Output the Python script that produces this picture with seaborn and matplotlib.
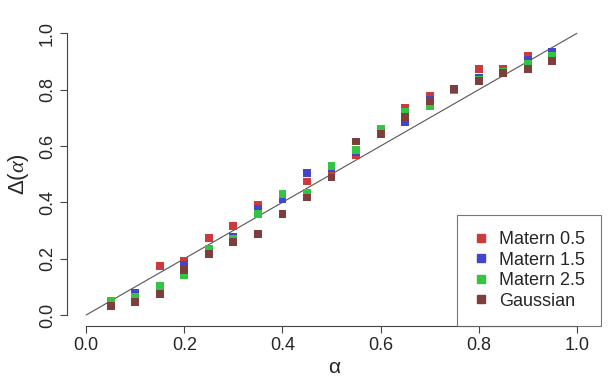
import numpy as np
import pandas as pd
import matplotlib
matplotlib.use("Agg")
import matplotlib.pyplot as plt
import seaborn as sns

## DATA
alpha = [0.05, 0.10, 0.15, 0.20, 0.25, 0.30, 0.35, 0.40, 0.45, 0.50,
         0.55, 0.60, 0.65, 0.70, 0.75, 0.80, 0.85, 0.90, 0.95]
matern05 = [0.040, 0.060, 0.174, 0.191, 0.274, 0.317, 0.389, 0.420, 0.474, 0.512,
            0.568, 0.655, 0.734, 0.777, 0.800, 0.872, 0.875, 0.918, 0.910]
matern15 = [0.045, 0.079, 0.100, 0.177, 0.235, 0.277, 0.377, 0.411, 0.504, 0.520,
            0.580, 0.655, 0.684, 0.765, 0.800, 0.840, 0.862, 0.907, 0.933]
matern25 = [0.050, 0.065, 0.104, 0.143, 0.235, 0.270, 0.358, 0.430, 0.434, 0.530,
            0.586, 0.662, 0.721, 0.740, 0.800, 0.835, 0.862, 0.892, 0.920]
gaussian = [0.033, 0.046, 0.074, 0.161, 0.217, 0.260, 0.288, 0.359, 0.417, 0.488,
            0.616, 0.644, 0.702, 0.759, 0.801, 0.830, 0.858, 0.872, 0.902]
labels = ["Matern 0.5", "Matern 1.5", "Matern 2.5", "Gaussian"]
colors = ["#CC3B3B", "#4444CC", "#33C444", "#7F3E3E"]

df = pd.concat([
    pd.DataFrame({"alpha": alpha, "delta": vals, "model": lab})
    for vals, lab in zip([matern05, matern15, matern25, gaussian], labels)
], ignore_index=True)

## PLOT
sns.set_style("white")
plt.rcParams["font.family"] = ["Liberation Sans", "DejaVu Sans"]
plt.rcParams["mathtext.fontset"] = "custom"
plt.rcParams["mathtext.rm"] = "Liberation Sans"
plt.rcParams["mathtext.it"] = "Liberation Serif:italic"

fig = plt.figure(figsize=(6.12, 3.77), dpi=100)
ax = fig.add_axes([0.1095, 0.1353, 0.8725, 0.8063])

ax.plot([0, 1], [0, 1], color="#555555", lw=0.8, zorder=1)
sns.scatterplot(data=df, x="alpha", y="delta", hue="model", hue_order=labels,
                palette=colors, marker="s", s=32, edgecolor="none",
                ax=ax, zorder=2, legend=False)

ax.set_xlim(-0.039, 1.049)
ax.set_ylim(-0.039, 1.04)
ticks = [0.0, 0.2, 0.4, 0.6, 0.8, 1.0]
ax.set_xticks(ticks)
ax.set_yticks(ticks)
ax.set_xticklabels([f"{t:.1f}" for t in ticks], fontsize=13)
ax.set_yticklabels([f"{t:.1f}" for t in ticks], fontsize=13, rotation=90, va="center")
ax.tick_params(direction="out", length=5, width=0.8, color="#444444", pad=3,
               bottom=True, left=True)

for side in ["top", "right"]:
    ax.spines[side].set_visible(False)
ax.spines["left"].set_bounds(0, 1)
ax.spines["bottom"].set_bounds(0, 1)
for side in ["left", "bottom"]:
    ax.spines[side].set_color("#444444")
    ax.spines[side].set_linewidth(0.8)

ax.set_xlabel("α", fontsize=15, labelpad=3)
ax.set_ylabel(r"$\Delta(\alpha)$", fontsize=16, labelpad=6)

handles = [plt.Line2D([], [], marker="s", ls="", color=c, markersize=5.5) for c in colors]
leg = ax.legend(handles, labels, loc="lower right", fontsize=13, frameon=True,
                fancybox=False, borderaxespad=0, handlelength=0.8,
                handletextpad=0.6, labelspacing=0.2, borderpad=0.9)
leg.get_frame().set_edgecolor("#555555")
leg.get_frame().set_linewidth(0.8)

fig.savefig("out.png", dpi=100)
